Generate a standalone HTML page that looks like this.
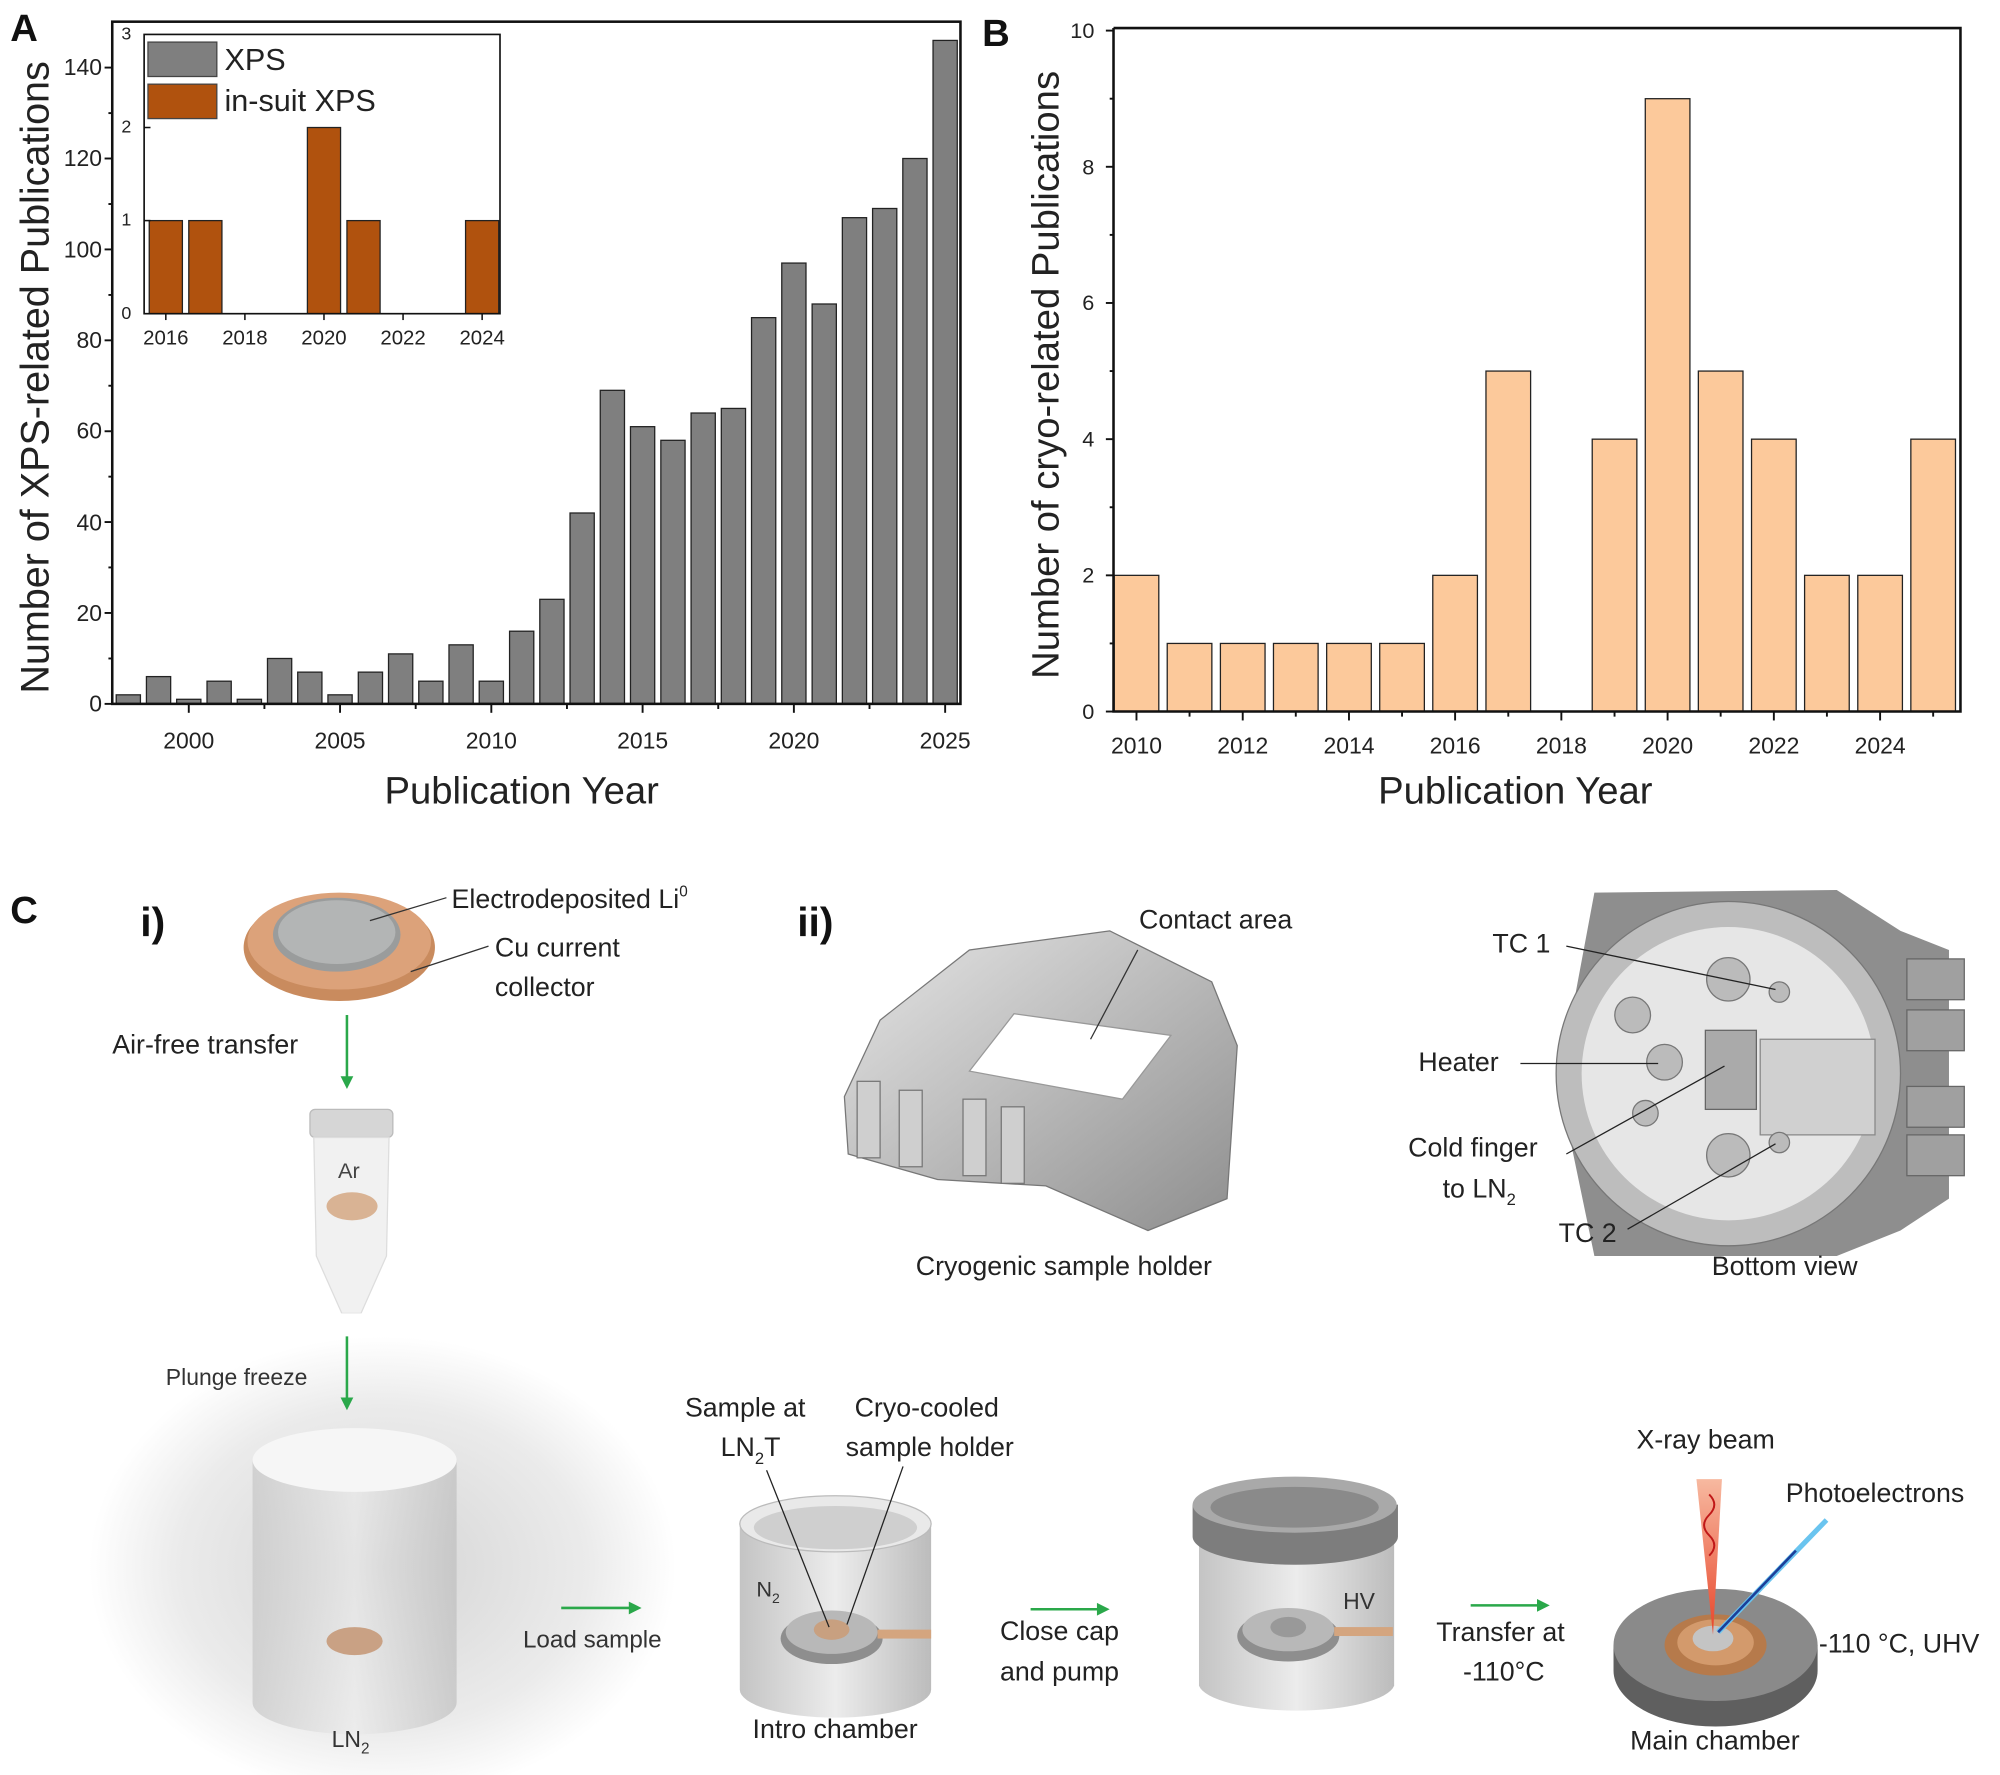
<!DOCTYPE html>
<html><head><meta charset="utf-8"><style>
html,body{margin:0;padding:0;background:#fff}
svg{display:block}
text{font-family:"Liberation Sans",sans-serif;fill:#222}
</style></head><body>
<svg width="2000" height="1775" viewBox="0 0 1568 1392" preserveAspectRatio="none" xmlns="http://www.w3.org/2000/svg">
<defs>
<radialGradient id="fog" cx="0.5" cy="0.55" r="0.5"><stop offset="0" stop-color="#d4d4d4"/><stop offset="0.7" stop-color="#ebebeb"/><stop offset="1" stop-color="#fff"/></radialGradient>
<linearGradient id="cyl" x1="0" x2="1"><stop offset="0" stop-color="#c4c4c4"/><stop offset="0.5" stop-color="#ececec"/><stop offset="1" stop-color="#bcbcbc"/></linearGradient>
<linearGradient id="met" x1="0" x2="1" y1="0" y2="1"><stop offset="0" stop-color="#e6e6e6"/><stop offset="1" stop-color="#8e8e8e"/></linearGradient>
<linearGradient id="beam" x1="0" x2="0" y1="0" y2="1"><stop offset="0" stop-color="#f7b9a0"/><stop offset="1" stop-color="#e8452a"/></linearGradient>
</defs>
<rect width="1568" height="1392" fill="#fff"/>

<!-- Panel A -->
<text x="8" y="32" font-size="30" font-weight="bold" style="fill:#111">A</text>
<g fill="#7f7f7f" stroke="#222" stroke-width="1">
<rect x="91.1" y="544.9" width="19" height="7.1"/><rect x="114.8" y="530.6" width="19" height="21.4"/><rect x="138.5" y="548.4" width="19" height="3.6"/><rect x="162.3" y="534.2" width="19" height="17.8"/><rect x="186" y="548.4" width="19" height="3.6"/><rect x="209.7" y="516.4" width="19" height="35.6"/><rect x="233.4" y="527.1" width="19" height="24.9"/><rect x="257.1" y="544.9" width="19" height="7.1"/><rect x="280.9" y="527.1" width="19" height="24.9"/><rect x="304.6" y="512.8" width="19" height="39.2"/><rect x="328.3" y="534.2" width="19" height="17.8"/><rect x="352" y="505.7" width="19" height="46.3"/><rect x="375.7" y="534.2" width="19" height="17.8"/><rect x="399.5" y="495" width="19" height="57"/><rect x="423.2" y="470" width="19" height="82"/><rect x="446.9" y="402.3" width="19" height="149.7"/><rect x="470.6" y="306.1" width="19" height="245.9"/><rect x="494.3" y="334.6" width="19" height="217.4"/><rect x="518.1" y="345.3" width="19" height="206.7"/><rect x="541.8" y="323.9" width="19" height="228.1"/><rect x="565.5" y="320.3" width="19" height="231.7"/><rect x="589.2" y="249.1" width="19" height="302.9"/><rect x="612.9" y="206.3" width="19" height="345.7"/><rect x="636.7" y="238.4" width="19" height="313.6"/><rect x="660.4" y="170.7" width="19" height="381.3"/><rect x="684.1" y="163.5" width="19" height="388.5"/><rect x="707.8" y="124.3" width="19" height="427.7"/><rect x="731.5" y="31.7" width="19" height="520.3"/>
</g>
<rect x="88" y="17" width="665" height="535" fill="none" stroke="#111" stroke-width="2"/>
<g stroke="#111" stroke-width="1.5">
<line x1="82" y1="552" x2="88" y2="552"/><line x1="82" y1="480.7" x2="88" y2="480.7"/><line x1="82" y1="409.4" x2="88" y2="409.4"/><line x1="82" y1="338.2" x2="88" y2="338.2"/><line x1="82" y1="266.9" x2="88" y2="266.9"/><line x1="82" y1="195.6" x2="88" y2="195.6"/><line x1="82" y1="124.3" x2="88" y2="124.3"/><line x1="82" y1="53" x2="88" y2="53"/>
<line x1="85" y1="516.4" x2="88" y2="516.4"/><line x1="85" y1="445" x2="88" y2="445"/><line x1="85" y1="373.8" x2="88" y2="373.8"/><line x1="85" y1="302.5" x2="88" y2="302.5"/><line x1="85" y1="231.3" x2="88" y2="231.3"/><line x1="85" y1="160" x2="88" y2="160"/><line x1="85" y1="88.7" x2="88" y2="88.7"/>
<line x1="148" y1="552" x2="148" y2="559"/><line x1="266.6" y1="552" x2="266.6" y2="559"/><line x1="385.2" y1="552" x2="385.2" y2="559"/><line x1="503.8" y1="552" x2="503.8" y2="559"/><line x1="622.4" y1="552" x2="622.4" y2="559"/><line x1="741" y1="552" x2="741" y2="559"/>
<line x1="207.3" y1="552" x2="207.3" y2="556"/><line x1="325.9" y1="552" x2="325.9" y2="556"/><line x1="444.5" y1="552" x2="444.5" y2="556"/><line x1="563.1" y1="552" x2="563.1" y2="556"/><line x1="681.7" y1="552" x2="681.7" y2="556"/>
</g>
<g font-size="18" text-anchor="end">
<text x="80" y="558">0</text><text x="80" y="487">20</text><text x="80" y="416">40</text><text x="80" y="344">60</text><text x="80" y="273">80</text><text x="80" y="202">100</text><text x="80" y="130">120</text><text x="80" y="59">140</text>
</g>
<g font-size="18" text-anchor="middle">
<text x="148" y="587">2000</text><text x="266.6" y="587">2005</text><text x="385.2" y="587">2010</text><text x="503.8" y="587">2015</text><text x="622.4" y="587">2020</text><text x="741" y="587">2025</text>
</g>
<text x="409" y="630" font-size="30" text-anchor="middle">Publication Year</text>
<text transform="translate(38,296) rotate(-90)" font-size="31" text-anchor="middle">Number of XPS-related Publications</text>

<!-- inset -->
<rect x="113" y="27" width="279" height="219" fill="#fff"/>
<g fill="#b0520e" stroke="#222" stroke-width="1">
<rect x="117" y="173" width="26" height="73"/><rect x="148" y="173" width="26" height="73"/><rect x="241" y="100" width="26" height="146"/><rect x="272" y="173" width="26" height="73"/><rect x="365" y="173" width="26" height="73"/>
</g>
<rect x="113" y="27" width="279" height="219" fill="none" stroke="#111" stroke-width="1.3"/>
<g stroke="#111" stroke-width="1.2">
<line x1="113" y1="173" x2="118" y2="173"/><line x1="113" y1="100" x2="118" y2="100"/>
<line x1="130" y1="246" x2="130" y2="251"/><line x1="192" y1="246" x2="192" y2="251"/><line x1="254" y1="246" x2="254" y2="251"/><line x1="316" y1="246" x2="316" y2="251"/><line x1="378" y1="246" x2="378" y2="251"/>
</g>
<g font-size="14" text-anchor="end"><text x="103" y="250">0</text><text x="103" y="177">1</text><text x="103" y="104">2</text><text x="103" y="31">3</text></g>
<g font-size="16" text-anchor="middle"><text x="130" y="270">2016</text><text x="192" y="270">2018</text><text x="254" y="270">2020</text><text x="316" y="270">2022</text><text x="378" y="270">2024</text></g>
<rect x="116" y="33" width="54" height="27" fill="#7f7f7f" stroke="#444"/>
<rect x="116" y="66" width="54" height="27" fill="#b0520e" stroke="#444"/>
<text x="176" y="55" font-size="24">XPS</text>
<text x="176" y="87" font-size="24">in-suit XPS</text>

<!-- Panel B -->
<text x="770" y="36" font-size="30" font-weight="bold" style="fill:#111">B</text>
<g fill="#fcc99b" stroke="#222" stroke-width="1">
<rect x="873.5" y="451.2" width="35" height="106.8"/><rect x="915.1" y="504.6" width="35" height="53.4"/><rect x="956.8" y="504.6" width="35" height="53.4"/><rect x="998.4" y="504.6" width="35" height="53.4"/><rect x="1040.1" y="504.6" width="35" height="53.4"/><rect x="1081.7" y="504.6" width="35" height="53.4"/><rect x="1123.3" y="451.2" width="35" height="106.8"/><rect x="1165" y="291" width="35" height="267"/><rect x="1248.3" y="344.4" width="35" height="213.6"/><rect x="1289.9" y="77.4" width="35" height="480.6"/><rect x="1331.5" y="291" width="35" height="267"/><rect x="1373.2" y="344.4" width="35" height="213.6"/><rect x="1414.8" y="451.2" width="35" height="106.8"/><rect x="1456.5" y="451.2" width="35" height="106.8"/><rect x="1498.1" y="344.4" width="35" height="213.6"/>
</g>
<polyline points="873,22 1537,22 1537,558 873,558 873,22" fill="none" stroke="#111" stroke-width="2"/>
<g stroke="#111" stroke-width="1.5">
<line x1="867" y1="558" x2="873" y2="558"/><line x1="867" y1="451.2" x2="873" y2="451.2"/><line x1="867" y1="344.4" x2="873" y2="344.4"/><line x1="867" y1="237.6" x2="873" y2="237.6"/><line x1="867" y1="130.8" x2="873" y2="130.8"/><line x1="867" y1="24" x2="873" y2="24"/>
<line x1="870" y1="504.6" x2="873" y2="504.6"/><line x1="870" y1="397.8" x2="873" y2="397.8"/><line x1="870" y1="291" x2="873" y2="291"/><line x1="870" y1="184.2" x2="873" y2="184.2"/><line x1="870" y1="77.4" x2="873" y2="77.4"/>
<line x1="891" y1="558" x2="891" y2="565"/><line x1="974.3" y1="558" x2="974.3" y2="565"/><line x1="1057.6" y1="558" x2="1057.6" y2="565"/><line x1="1140.8" y1="558" x2="1140.8" y2="565"/><line x1="1224.1" y1="558" x2="1224.1" y2="565"/><line x1="1307.4" y1="558" x2="1307.4" y2="565"/><line x1="1390.7" y1="558" x2="1390.7" y2="565"/><line x1="1474" y1="558" x2="1474" y2="565"/>
<line x1="932.6" y1="558" x2="932.6" y2="562"/><line x1="1015.9" y1="558" x2="1015.9" y2="562"/><line x1="1099.2" y1="558" x2="1099.2" y2="562"/><line x1="1182.5" y1="558" x2="1182.5" y2="562"/><line x1="1265.8" y1="558" x2="1265.8" y2="562"/><line x1="1349" y1="558" x2="1349" y2="562"/><line x1="1432.3" y1="558" x2="1432.3" y2="562"/><line x1="1515.6" y1="558" x2="1515.6" y2="562"/>
</g>
<g font-size="17" text-anchor="end"><text x="858" y="564">0</text><text x="858" y="457">2</text><text x="858" y="350">4</text><text x="858" y="243">6</text><text x="858" y="137">8</text><text x="858" y="30">10</text></g>
<g font-size="18" text-anchor="middle"><text x="891" y="591">2010</text><text x="974.3" y="591">2012</text><text x="1057.6" y="591">2014</text><text x="1140.8" y="591">2016</text><text x="1224.1" y="591">2018</text><text x="1307.4" y="591">2020</text><text x="1390.7" y="591">2022</text><text x="1474" y="591">2024</text></g>
<text x="1188" y="630" font-size="30" text-anchor="middle">Publication Year</text>
<text transform="translate(830,294) rotate(-90)" font-size="30" text-anchor="middle">Number of cryo-related Publications</text>

<!-- Panel C -->
<text x="8" y="724" font-size="30" font-weight="bold" style="fill:#111">C</text>
<text x="110" y="734" font-size="32" font-weight="bold" style="fill:#111">i)</text>
<text x="625" y="734" font-size="32" font-weight="bold" style="fill:#111">ii)</text>

<!-- coin -->
<ellipse cx="266" cy="743" rx="75" ry="42" fill="#c98b5e"/>
<ellipse cx="266" cy="738" rx="72" ry="38" fill="#dca27a"/>
<ellipse cx="264" cy="733" rx="50" ry="29" fill="#9a9c9c"/>
<ellipse cx="264" cy="731" rx="46" ry="25" fill="#b3b5b5"/>
<line x1="290" y1="722" x2="350" y2="704" stroke="#333"/>
<line x1="322" y1="762" x2="383" y2="742" stroke="#333"/>
<text x="354" y="712" font-size="21">Electrodeposited Li<tspan font-size="12" dy="-9">0</tspan></text>
<text x="388" y="750" font-size="21">Cu current</text>
<text x="388" y="781" font-size="21">collector</text>
<text x="88" y="826" font-size="21">Air-free transfer</text>
<line x1="272" y1="796" x2="272" y2="846" stroke="#2aa84a" stroke-width="2"/><polygon points="267,844 277,844 272,854" fill="#2aa84a"/>
<!-- tube -->
<rect x="243" y="870" width="65" height="22" rx="4" fill="#d6d6d6" stroke="#bbb"/>
<path d="M246,892 L305,892 L303,985 L283,1030 L268,1030 L248,985 Z" fill="#f1f1f1" stroke="#ddd"/>
<text x="265" y="924" font-size="17" style="fill:#444">Ar</text>
<ellipse cx="276" cy="946" rx="20" ry="11" fill="#d9b394"/>
<!-- fog and dewar -->
<rect x="70" y="1030" width="460" height="362" fill="url(#fog)"/>
<path d="M198,1145 L358,1145 L358,1335 A80,25 0 0 1 198,1335 Z" fill="url(#cyl)" opacity="0.65"/>
<ellipse cx="278" cy="1145" rx="80" ry="25" fill="#f6f6f6"/>
<ellipse cx="278" cy="1287" rx="22" ry="11" fill="#c9a184"/>
<text x="130" y="1086" font-size="18" style="fill:#333">Plunge freeze</text>
<line x1="272" y1="1048" x2="272" y2="1098" stroke="#2aa84a" stroke-width="2"/><polygon points="267,1096 277,1096 272,1106" fill="#2aa84a"/>
<text x="260" y="1370" font-size="18" style="fill:#333">LN<tspan font-size="12" dy="5">2</tspan></text>
<line x1="440" y1="1261" x2="495" y2="1261" stroke="#2aa84a" stroke-width="2"/><polygon points="493,1256 503,1261 493,1266" fill="#2aa84a"/>
<text x="410" y="1292" font-size="19" style="fill:#333">Load sample</text>

<!-- holder ii -->
<path d="M690,800 L760,745 L870,730 L950,770 L970,820 L962,940 L900,965 L820,930 L735,925 L665,905 L662,860 Z" fill="url(#met)" stroke="#777"/>
<path d="M760,840 L795,795 L918,812 L880,862 Z" fill="#fff" stroke="#999"/>
<g fill="#cfcfcf" stroke="#777"><rect x="672" y="848" width="18" height="60"/><rect x="705" y="855" width="18" height="60"/><rect x="755" y="862" width="18" height="60"/><rect x="785" y="868" width="18" height="60"/></g>
<line x1="855" y1="815" x2="892" y2="745" stroke="#333"/>
<text x="893" y="728" font-size="21">Contact area</text>
<text x="718" y="1000" font-size="21">Cryogenic sample holder</text>

<!-- bottom view -->
<path d="M1250,700 L1440,698 L1490,730 L1528,745 L1528,940 L1490,965 L1440,985 L1250,985 L1222,850 Z" fill="#8e8e8e"/>
<circle cx="1355" cy="842" r="135" fill="#bdbdbd" stroke="#777"/>
<circle cx="1355" cy="842" r="115" fill="#e6e6e6"/>
<path d="M1380,815 L1470,815 L1470,890 L1380,890 Z" fill="#d0d0d0" stroke="#888"/>
<rect x="1337" y="808" width="40" height="62" fill="#aaa" stroke="#666"/>
<g fill="#bbb" stroke="#777"><circle cx="1355" cy="768" r="17"/><circle cx="1355" cy="906" r="17"/><circle cx="1305" cy="833" r="14"/><circle cx="1280" cy="796" r="14"/><circle cx="1290" cy="873" r="10"/><circle cx="1395" cy="778" r="8"/><circle cx="1395" cy="896" r="8"/></g>
<g fill="#a0a0a0" stroke="#666"><rect x="1495" y="752" width="45" height="32"/><rect x="1495" y="792" width="45" height="32"/><rect x="1495" y="852" width="45" height="32"/><rect x="1495" y="890" width="45" height="32"/></g>
<g stroke="#222"><line x1="1228" y1="742" x2="1392" y2="776"/><line x1="1192" y1="834" x2="1300" y2="834"/><line x1="1228" y1="905" x2="1352" y2="836"/><line x1="1276" y1="964" x2="1392" y2="897"/></g>
<text x="1170" y="747" font-size="21">TC 1</text>
<text x="1112" y="840" font-size="21">Heater</text>
<text x="1104" y="907" font-size="21">Cold finger</text>
<text x="1131" y="939" font-size="21">to LN<tspan font-size="13" dy="6">2</tspan></text>
<text x="1222" y="974" font-size="21">TC 2</text>
<text x="1342" y="1000" font-size="21">Bottom view</text>

<!-- intro chamber -->
<path d="M580,1195 L730,1195 L730,1325 A75,22 0 0 1 580,1325 Z" fill="url(#cyl)"/>
<ellipse cx="655" cy="1195" rx="75" ry="22" fill="#e9e9e9" stroke="#bbb"/>
<ellipse cx="655" cy="1198" rx="64" ry="17" fill="#cfcfcf"/>
<ellipse cx="652" cy="1285" rx="40" ry="20" fill="#8e8e8e"/>
<ellipse cx="652" cy="1280" rx="36" ry="17" fill="#b8b8b8"/>
<ellipse cx="652" cy="1278" rx="14" ry="8" fill="#c8a080"/>
<rect x="688" y="1278" width="42" height="7" fill="#d4a57f"/>
<line x1="601" y1="1153" x2="650" y2="1276" stroke="#222"/><line x1="708" y1="1150" x2="664" y2="1274" stroke="#222"/>
<text x="593" y="1252" font-size="17" style="fill:#333">N<tspan font-size="11" dy="5">2</tspan></text>
<text x="537" y="1111" font-size="21">Sample at</text>
<text x="565" y="1142" font-size="21">LN<tspan font-size="13" dy="6">2</tspan><tspan dy="-6">T</tspan></text>
<text x="670" y="1111" font-size="21">Cryo-cooled</text>
<text x="663" y="1142" font-size="21">sample holder</text>
<text x="590" y="1363" font-size="21">Intro chamber</text>
<line x1="808" y1="1262" x2="862" y2="1262" stroke="#2aa84a" stroke-width="2"/><polygon points="860,1257 870,1262 860,1267" fill="#2aa84a"/>
<text x="784" y="1286" font-size="21">Close cap</text>
<text x="784" y="1318" font-size="21">and pump</text>

<!-- HV chamber -->
<path d="M940,1190 L1093,1190 L1093,1322 A77,22 0 0 1 940,1322 Z" fill="url(#cyl)"/>
<path d="M935,1180 L1096,1180 L1096,1205 A80,22 0 0 1 935,1205 Z" fill="#7d7d7d"/>
<ellipse cx="1015" cy="1180" rx="80" ry="22" fill="#a9a9a9"/>
<ellipse cx="1015" cy="1182" rx="66" ry="16" fill="#8a8a8a"/>
<ellipse cx="1010" cy="1283" rx="40" ry="20" fill="#8e8e8e"/>
<ellipse cx="1010" cy="1278" rx="36" ry="17" fill="#b8b8b8"/>
<ellipse cx="1010" cy="1276" rx="14" ry="8" fill="#999"/>
<rect x="1046" y="1276" width="46" height="7" fill="#d4a57f"/>
<text x="1053" y="1262" font-size="18" style="fill:#333">HV</text>
<line x1="1153" y1="1259" x2="1207" y2="1259" stroke="#2aa84a" stroke-width="2"/><polygon points="1205,1254 1215,1259 1205,1264" fill="#2aa84a"/>
<text x="1126" y="1287" font-size="21">Transfer at</text>
<text x="1147" y="1318" font-size="21">-110°C</text>

<!-- main chamber -->
<path d="M1265,1290 L1425,1290 L1425,1310 A80,44 0 0 1 1265,1310 Z" fill="#5f5f5f"/>
<ellipse cx="1345" cy="1290" rx="80" ry="44" fill="#8a8a8a"/>
<ellipse cx="1345" cy="1290" rx="40" ry="24" fill="#b67a4b"/>
<ellipse cx="1345" cy="1288" rx="30" ry="18" fill="#d39a6c"/>
<ellipse cx="1343" cy="1285" rx="16" ry="10" fill="#c4c4c4"/>
<polygon points="1330,1160 1350,1160 1343,1282" fill="url(#beam)"/>
<path d="M1340,1172 q8,8 0,16 q-8,8 0,16 q8,8 0,16" fill="none" stroke="#c01818" stroke-width="1.5"/>
<line x1="1347" y1="1280" x2="1432" y2="1192" stroke="#6ac4ef" stroke-width="4"/>
<line x1="1347" y1="1280" x2="1408" y2="1216" stroke="#1b3f9a" stroke-width="2"/>
<text x="1283" y="1136" font-size="21">X-ray beam</text>
<text x="1400" y="1178" font-size="21">Photoelectrons</text>
<text x="1426" y="1296" font-size="21">-110 °C, UHV</text>
<text x="1278" y="1372" font-size="21">Main chamber</text>
</svg>
</body></html>
